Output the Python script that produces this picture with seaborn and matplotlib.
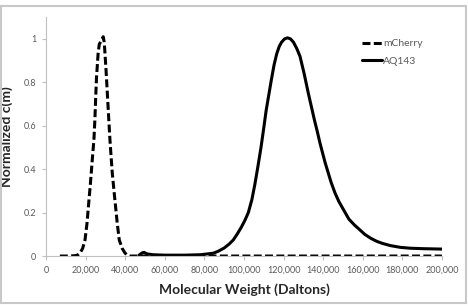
# -*- coding: utf-8 -*-
"""
c(m) distributions for mCherry and AQ143, normalised to peak
"""

import pandas as pd
import seaborn as sns
import matplotlib.pyplot as plt
from matplotlib.patches import Rectangle
from matplotlib.ticker import FuncFormatter, MultipleLocator

# -------------------------------------------------------------------
# Data
# -------------------------------------------------------------------

mcherry_mw = [7000, 12000, 15000, 16200, 17200, 18500, 19700, 20700, 21700,
              22400, 23000, 23600, 24200, 24700, 25100, 25500, 26300, 26900,
              27800, 28400, 28900, 29300, 29600, 30300, 31100, 31700, 32300,
              32900, 33500, 34800, 36000, 37000, 38500, 39900, 41000, 42400,
              60000, 100000, 150000, 200000]
mcherry_cm = [0, 0, 0.002, 0.006, 0.014, 0.035, 0.074, 0.15, 0.258,
              0.33, 0.4, 0.47, 0.535, 0.63, 0.73, 0.82, 0.93, 0.975,
              0.99, 1.0, 1.01, 0.99, 0.96, 0.86, 0.73, 0.63, 0.535,
              0.455, 0.38, 0.258, 0.15, 0.074, 0.035, 0.014, 0.004, 0,
              0, 0, 0, 0]

aq143_mw = [47000, 48500, 49500, 51000, 54000, 60000, 70000, 78000, 84500,
            87000, 90000, 92500, 94600, 96500, 98500, 100500, 102200, 104000,
            105500, 107000, 108600, 110000, 111200, 112500, 113800, 115200,
            116500, 117800, 119000, 120500, 122000, 123500, 125000, 126700,
            128300, 130400, 132500, 134000, 135500, 137000, 138400, 141000,
            144000, 146000, 148000, 150500, 153000, 155800, 158600, 161000,
            164000, 167000, 170000, 174000, 179000, 184000, 190000, 195000,
            200000]
aq143_cm = [0.004, 0.014, 0.017, 0.01, 0.006, 0.004, 0.004, 0.006, 0.013,
            0.022, 0.037, 0.055, 0.074, 0.1, 0.13, 0.165, 0.2, 0.26,
            0.33, 0.41, 0.5, 0.59, 0.67, 0.74, 0.81, 0.88,
            0.93, 0.965, 0.985, 1.0, 1.005, 1.0, 0.985, 0.955,
            0.92, 0.84, 0.75, 0.69, 0.63, 0.575, 0.52, 0.43,
            0.34, 0.29, 0.25, 0.21, 0.17, 0.143, 0.12, 0.1,
            0.082, 0.068, 0.058, 0.048, 0.04, 0.036, 0.034, 0.033,
            0.032]

df = pd.concat([
    pd.DataFrame({"mw": mcherry_mw, "cm": mcherry_cm, "sample": "mCherry"}),
    pd.DataFrame({"mw": aq143_mw, "cm": aq143_cm, "sample": "AQ143"}),
], ignore_index=True)

# -------------------------------------------------------------------
# Style
# -------------------------------------------------------------------

sns.set_style("white")
plt.rcParams['font.family'] = ['Lato', 'DejaVu Sans']
grey = "#595959"
axis_grey = "#bfbfbf"

fig = plt.figure(figsize=(4.68, 3.07), dpi=100)
ax = fig.add_axes([0.0983, 0.166, 0.846, 0.778])

sns.lineplot(
    data=df, x="mw", y="cm", hue="sample", style="sample",
    palette={"mCherry": "black", "AQ143": "black"},
    dashes={"mCherry": (2.6, 1.1), "AQ143": ""},
    linewidth=2.2, sort=False, estimator=None, ax=ax,
)
for line in ax.lines:
    line.set_solid_joinstyle("round")
    line.set_solid_capstyle("round")

ax.set_xlim(0, 200000)
ax.set_ylim(0, 1.1)
ax.xaxis.set_major_locator(MultipleLocator(20000))
ax.yaxis.set_major_locator(MultipleLocator(0.2))
ax.xaxis.set_major_formatter(FuncFormatter(lambda v, p: f"{int(round(v)):,}"))
ax.yaxis.set_major_formatter(FuncFormatter(lambda v, p: f"{v:g}"))

for side in ["top", "right"]:
    ax.spines[side].set_visible(False)
for side in ["left", "bottom"]:
    ax.spines[side].set_color(axis_grey)
    ax.spines[side].set_linewidth(0.8)

ax.tick_params(axis="both", which="major", direction="out", length=3,
               width=0.8, color=axis_grey, labelsize=6.5, labelcolor=grey,
               bottom=True, left=True, pad=4)

ax.set_xlabel("Molecular Weight (Daltons)", fontsize=10, fontweight="bold",
              color="#262626", labelpad=6)
ax.set_ylabel("Normalized c(m)", fontsize=10, fontweight="bold",
              color="#262626", labelpad=8)

ax.legend(loc="upper right", bbox_to_anchor=(0.965, 0.93), frameon=False,
          fontsize=7.5, handlelength=1.9, handletextpad=0.1, labelspacing=0.8,
          borderpad=0, labelcolor=grey)

# light frame around the whole chart
fig.patches.append(Rectangle((0.002, 0.013), 0.994, 0.967,
                             transform=fig.transFigure, fill=False,
                             edgecolor="#c8c8c8", linewidth=1.5))

plt.savefig("out.png", dpi=100)
plt.close()
